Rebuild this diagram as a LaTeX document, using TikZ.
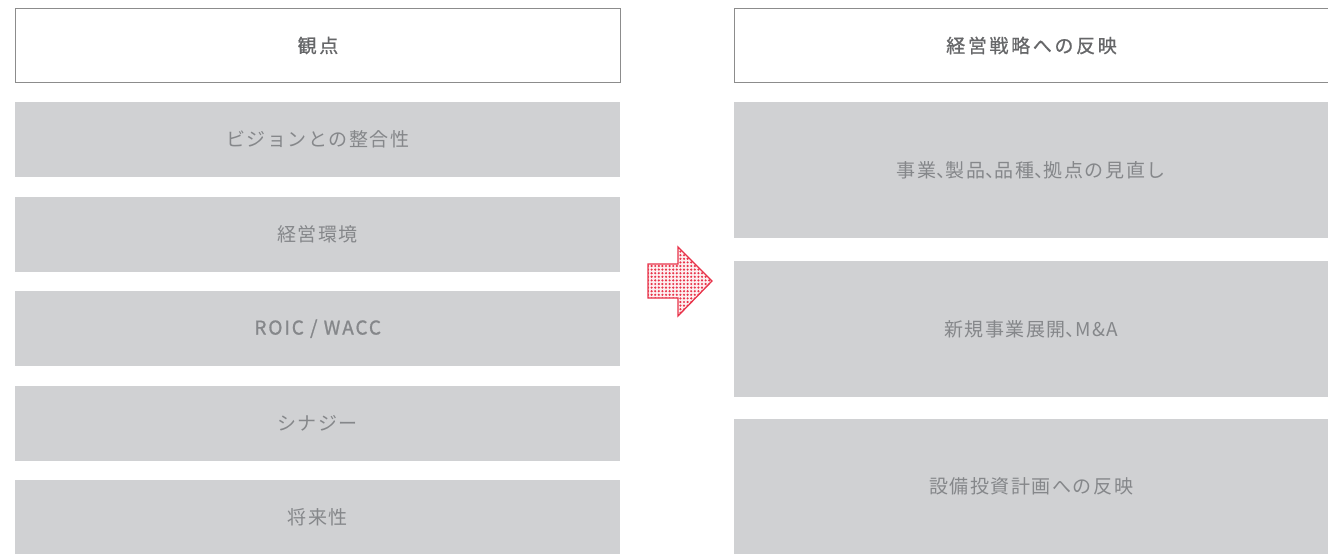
\documentclass[tikz,border=0pt]{standalone}
\usepackage{fontspec}
\usetikzlibrary{patterns.meta}
\newfontfamily\jpfont[LetterSpace=8]{Noto Sans CJK JP}
\newfontfamily\jphalt[LetterSpace=8,RawFeature=+halt]{Noto Sans CJK JP}
\newfontfamily\latfont[LetterSpace=10,FakeBold=1]{Noto Sans CJK JP}
\newfontfamily\jphead[LetterSpace=14,FakeBold=0.8]{Noto Sans CJK JP}
\newcommand{\hten}{{\jphalt 、}}
\definecolor{boxgray}{HTML}{D0D1D3}
\definecolor{txtgray}{HTML}{85878A}
\definecolor{hdrgray}{HTML}{666769}
\definecolor{linegray}{HTML}{8C8C8C}
\definecolor{arrred}{HTML}{E8334A}
\tikzset{
  hdrbox/.style={draw=linegray, line width=1pt, fill=white, inner sep=0pt, anchor=north west,
    font=\jphead\fontsize{19}{22}\selectfont, text=hdrgray},
  graybox/.style={fill=boxgray, inner sep=0pt, anchor=north west,
    font=\jpfont\fontsize{19}{22}\selectfont, text=txtgray},
}
\begin{document}
\begin{tikzpicture}[x=1pt,y=-1pt]
\useasboundingbox (0,0) rectangle (1328,554);
% left column
\node[hdrbox, minimum width=605pt, minimum height=74pt] (lh) at (15,8) {観点};
\node[graybox, minimum width=605pt, minimum height=75pt] (l1) at (15,102) {ビジョンとの整合性};
\node[graybox, minimum width=605pt, minimum height=75pt] (l2) at (15,197) {経営環境};
\node[graybox, minimum width=605pt, minimum height=75pt] (l3) at (15,291) {\latfont\fontsize{19}{22}\selectfont ROIC / WACC};
\node[graybox, minimum width=605pt, minimum height=75pt] (l4) at (15,386) {シナジー};
\node[graybox, minimum width=605pt, minimum height=74pt] (l5) at (15,480) {将来性};
% right column
\node[hdrbox, minimum width=594pt, minimum height=74pt] (rh) at (734,8) {経営戦略への反映};
\node[graybox, minimum width=594pt, minimum height=136pt] (r1) at (734,102) {事業\hten 製品\hten 品種\hten 拠点の見直し};
\node[graybox, minimum width=594pt, minimum height=136pt] (r2) at (734,261) {新規事業展開\hten M\&A};
\node[graybox, minimum width=594pt, minimum height=135pt] (r3) at (734,419) {設備投資計画への反映};
% arrow
\fill[arrred!8]
  (648,264) -- (678,264) -- (678,247) -- (712,281) -- (678,316) -- (678,298) -- (648,298) -- cycle;
\draw[draw=arrred, line width=1.3pt, pattern={Dots[radius=1.2pt, distance=3.6pt]}, pattern color=arrred]
  (648,264) -- (678,264) -- (678,247) -- (712,281) -- (678,316) -- (678,298) -- (648,298) -- cycle;
\end{tikzpicture}
\end{document}
